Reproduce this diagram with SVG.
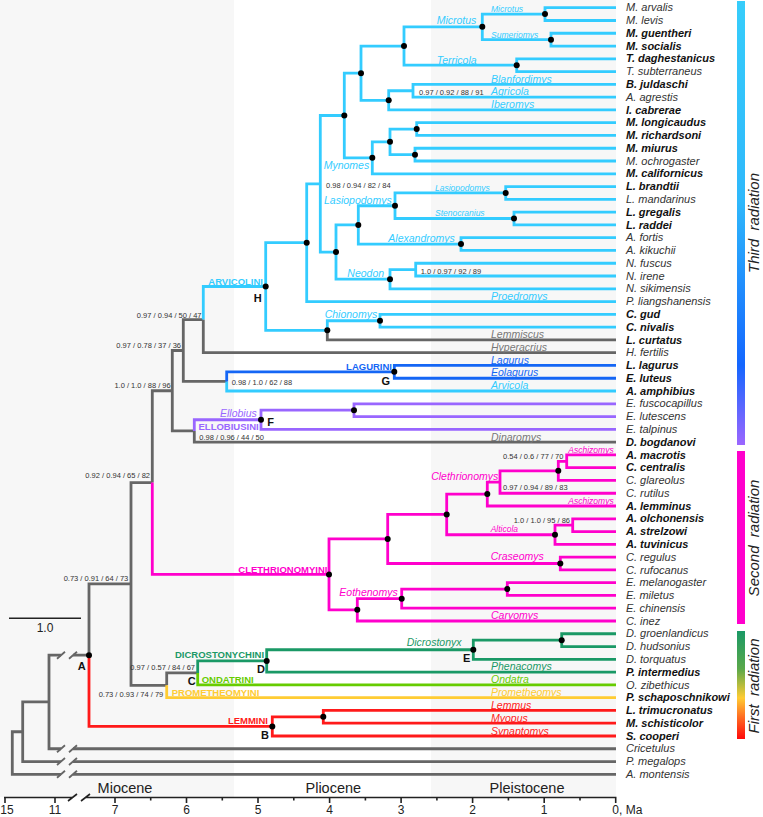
<svg xmlns="http://www.w3.org/2000/svg" width="763" height="817" viewBox="0 0 763 817">
<defs>
<style>
text{font-family:"Liberation Sans",Arial,sans-serif}
.t{font-size:11px;font-style:italic;fill:#333}
.b{font-weight:bold;fill:#111}
.gn{font-size:10.5px;font-style:italic}
.sm{font-size:8.5px;font-style:italic}
.sp{font-size:7.5px;fill:#333}
.cl{font-size:9.5px;font-weight:bold}
.lt{font-size:11px;font-weight:bold;fill:#111;text-anchor:middle}
.ax{font-size:12px;fill:#222;text-anchor:middle}
.ep{font-size:14.5px;fill:#222;text-anchor:middle}
.rad{font-size:15px;font-style:italic;fill:#222;text-anchor:middle}
.e{text-anchor:end}
.fcy{fill:#33ccff}.fbl{fill:#1466f5}.fpu{fill:#9966ff}.fmg{fill:#ff00cc}.fdg{fill:#1a9966}.flg{fill:#66cc00}.fye{fill:#ffcc33}.frd{fill:#ff1a1a}.fgy{fill:#777}
.br{fill:none;stroke-width:2.8}
.cy{stroke:#33ccff}.bl{stroke:#1466f5}.pu{stroke:#9966ff}.mg{stroke:#ff00cc}.dg{stroke:#1a9966}.lg{stroke:#66cc00}.ye{stroke:#ffcc33}.rd{stroke:#ff1a1a}.gy{stroke:#666}
.dot{fill:#000}
</style>
<linearGradient id="g3" x1="0" y1="0" x2="0" y2="1">
<stop offset="0" stop-color="#36cdfb"/><stop offset="0.45" stop-color="#2fb8fb"/><stop offset="0.82" stop-color="#1466ff"/><stop offset="1" stop-color="#9b66ff"/>
</linearGradient>
<linearGradient id="g1" x1="0" y1="0" x2="0" y2="1">
<stop offset="0" stop-color="#1a9966"/><stop offset="0.35" stop-color="#5aa84a"/><stop offset="0.62" stop-color="#ffcc33"/><stop offset="0.8" stop-color="#ff6a22"/><stop offset="1" stop-color="#ff0a0a"/>
</linearGradient>
</defs>
<rect width="763" height="817" fill="#fff"/>
<g id="epochs">
<rect x="0" y="0" width="234" height="797" fill="#f7f7f7"/>
<rect x="431" y="0" width="185" height="797" fill="#f7f7f7"/>
</g>
<g id="connectors">
<path class="br gy" d="M327.3 330.32V339.9H616M203.3 319.59V352.68H616M183.3 350.51V319.59H203.3M183.3 350.51V381.43H226.7M194.3 430.94V442.12H616M172.3 390.73V350.51H183.3M172.3 390.73V430.94H194.3M152.3 482.56V390.73H172.3M166.7 685.28V672.9H197.7M131 583.92V482.56H152.3M131 583.92V685.28H166.7M89 655.16V583.92H131M49 701.97V655.16H61M73 655.16H89M49 701.97V748.77H61M73 748.77H616M22.7 731.75V701.97H49M22.7 731.75V761.54H61M73 761.54H616M12.3 753.04V731.75H22.7M12.3 753.04V774.32H61M73 774.32H616"/>
<path fill="none" stroke="#666" stroke-width="1.8" d="M57 658.7L65 651.7M69 658.7L77 651.7M57 752.3L65 745.3M69 752.3L77 745.3M57 765L65 758M69 765L77 758M57 777.8L65 770.8M69 777.8L77 770.8"/>
<path class="br cy" d="M482.3 26.87V14.1H545M482.3 26.87V39.64H551M545 14.1V7.7H616M545 14.1V20.48H616M551 39.64V33.25H616M551 39.64V46.03H616M516.7 65.2V58.81H616M516.7 65.2V71.59H616M404 46.03V26.87H482.3M404 46.03V65.2H516.7M413 90.75V84.36H616M413 90.75V97.14H616M388.7 100.34V90.75H413M388.7 100.34V109.92H616M361 73.18V46.03H404M361 73.18V100.34H388.7M416.7 129.08V122.69H616M416.7 129.08V135.47H616M415 154.64V148.25H616M415 154.64V161.02H616M390 141.86V129.08H416.7M390 141.86V154.64H415M372.3 157.83V141.86H390M372.3 157.83V173.8H616M344.3 115.5V73.18H361M344.3 115.5V157.83H372.3M505.7 192.97V186.58H616M505.7 192.97V199.36H616M514 218.52V212.13H616M514 218.52V224.91H616M395 205.75V192.97H505.7M395 205.75V218.52H514M461 244.08V237.69H616M461 244.08V250.46H616M358.3 224.9V205.75H395M358.3 224.9V244.08H461M415.7 269.63V263.24H616M415.7 269.63V276.02H616M390 279.21V269.63H415.7M390 279.21V288.79H616M336 252.06V224.9H358.3M336 252.06V279.21H390M320.3 183.78V115.5H344.3M320.3 183.78V252.06H336M306.7 242.68V183.78H320.3M306.7 242.68V301.57H616M380 320.74V314.35H616M380 320.74V327.12H616M327.3 330.32V320.74H380M265.7 286.5V242.68H306.7M265.7 286.5V330.32H327.3M203.3 319.59V286.5H265.7M226.7 381.43V391.01H616"/>
<path class="br bl" d="M394.3 371.85V365.46H616M394.3 371.85V378.23H616M226.7 381.43V371.85H394.3"/>
<path class="br pu" d="M354 410.18V403.79H616M354 410.18V416.56H616M261 419.76V410.18H354M261 419.76V429.34H616M194.3 430.94V419.76H261"/>
<path class="br mg" d="M566.7 461.28V454.89H616M566.7 461.28V467.67H616M558.3 470.87V461.28H566.7M558.3 470.87V480.45H616M500 482.05V470.87H558.3M500 482.05V493.23H616M487.3 494.03V482.05H500M487.3 494.03V506H616M572.7 525.17V518.78H616M572.7 525.17V531.56H616M555 534.75V525.17H572.7M555 534.75V544.33H616M446.7 514.39V494.03H487.3M446.7 514.39V534.75H555M560.3 563.5V557.11H616M560.3 563.5V569.89H616M387.7 538.95V514.39H446.7M387.7 538.95V563.5H560.3M507.3 589.05V582.66H616M507.3 589.05V595.44H616M401.7 598.64V589.05H507.3M401.7 598.64V608.22H616M357.3 609.82V598.64H401.7M357.3 609.82V621H616M329 574.39V538.95H387.7M329 574.39V609.82H357.3M152.3 482.56V574.39H329"/>
<path class="br dg" d="M561.7 640.16V633.77H616M561.7 640.16V646.55H616M473.3 649.75V640.16H561.7M473.3 649.75V659.33H616M266.7 660.93V649.75H473.3M266.7 660.93V672.1H616M197.7 672.9V660.93H266.7"/>
<path class="br lg" d="M197.7 672.9V684.88H616"/>
<path class="br ye" d="M166.7 685.28V697.66H616"/>
<path class="br rd" d="M323.3 716.82V710.43H616M323.3 716.82V723.21H616M272.3 726.4V716.82H323.3M272.3 726.4V735.99H616M89 655.16V726.4H272.3"/>
</g>
<g id="nodes" class="dot">
<circle cx="545" cy="14.1" r="3"/><circle cx="482.3" cy="26.87" r="3"/><circle cx="551" cy="39.64" r="3"/><circle cx="516.7" cy="65.2" r="3"/><circle cx="404" cy="46.03" r="3"/><circle cx="388.7" cy="100.34" r="3"/><circle cx="361" cy="73.18" r="3"/><circle cx="344.3" cy="115.5" r="3"/><circle cx="372.3" cy="157.83" r="3"/><circle cx="390" cy="141.86" r="3"/><circle cx="416.7" cy="129.08" r="3"/><circle cx="415" cy="154.64" r="3"/><circle cx="306.7" cy="242.68" r="3"/><circle cx="336" cy="252.06" r="3"/><circle cx="358.3" cy="224.9" r="3"/><circle cx="395" cy="205.75" r="3"/><circle cx="505.7" cy="192.97" r="3"/><circle cx="514" cy="218.52" r="3"/><circle cx="461" cy="244.08" r="3"/><circle cx="390" cy="279.21" r="3"/><circle cx="380" cy="320.74" r="3"/><circle cx="327.3" cy="330.32" r="3"/><circle cx="265.7" cy="286.5" r="3"/><circle cx="394.3" cy="371.85" r="3"/><circle cx="261" cy="419.76" r="3"/><circle cx="354" cy="410.18" r="3"/><circle cx="329" cy="574.39" r="3"/><circle cx="387.7" cy="538.95" r="3"/><circle cx="446.7" cy="514.39" r="3"/><circle cx="487.3" cy="494.03" r="3"/><circle cx="558.3" cy="470.87" r="3"/><circle cx="555" cy="534.75" r="3"/><circle cx="560.3" cy="563.5" r="3"/><circle cx="357.3" cy="609.82" r="3"/><circle cx="401.7" cy="598.64" r="3"/><circle cx="507.3" cy="589.05" r="3"/><circle cx="89" cy="655.16" r="3"/><circle cx="266.7" cy="660.93" r="3"/><circle cx="473.3" cy="649.75" r="3"/><circle cx="561.7" cy="640.16" r="3"/><circle cx="272.3" cy="726.4" r="3"/><circle cx="323.3" cy="716.82" r="3"/>
</g>
<g id="node-letters">
<text class="lt" x="81.7" y="669.9">A</text><text class="lt" x="265" y="738.9">B</text><text class="lt" x="191.7" y="684.6">C</text><text class="lt" x="261" y="672.9">D</text><text class="lt" x="466.7" y="662.2">E</text><text class="lt" x="270.7" y="425.6">F</text><text class="lt" x="385.7" y="384.9">G</text><text class="lt" x="257.7" y="302.2">H</text>
</g>
<g id="clades">
<text class="cl fcy e" x="263" y="285.1">ARVICOLINI</text>
<text class="cl fbl e" x="392" y="370.1">LAGURINI</text>
<text class="cl fpu" x="198.5" y="430.1">ELLOBIUSINI</text>
<text class="cl fmg e" x="327.5" y="573">CLETHRIONOMYINI</text>
<text class="cl fdg" x="175" y="658.4">DICROSTONYCHINI</text>
<text class="cl flg" x="201.7" y="682.7">ONDATRINI</text>
<text class="cl fye" x="171.7" y="696.1">PROMETHEOMYINI</text>
<text class="cl frd e" x="268" y="723.6">LEMMINI</text>
</g>
<g id="genera">
<text class="gn fcy" x="436.7" y="23.7">Microtus</text>
<text class="sm fcy" x="491" y="12.3">Microtus</text>
<text class="sm fcy" x="491" y="38">Sumeriomys</text>
<text class="gn fcy" x="436.7" y="63.7">Terricola</text>
<text class="gn fcy" x="491" y="82.7">Blanfordimys</text>
<text class="gn fcy" x="491" y="95.4">Agricola</text>
<text class="gn fcy" x="491" y="108">Iberomys</text>
<text class="gn fcy" x="323.7" y="168.7">Mynomes</text>
<text class="gn fcy" x="324" y="203.7">Lasiopodomys</text>
<text class="sm fcy" x="435" y="191.3">Lasiopodomys</text>
<text class="sm fcy" x="435" y="216.3">Stenocranius</text>
<text class="gn fcy" x="388.3" y="242">Alexandromys</text>
<text class="gn fcy" x="347.3" y="277">Neodon</text>
<text class="gn fcy" x="491" y="300">Proedromys</text>
<text class="gn fcy" x="324.7" y="318">Chionomys</text>
<text class="gn fgy" x="491" y="338.1">Lemmiscus</text>
<text class="gn fgy" x="491" y="351">Hyperacrius</text>
<text class="gn fbl" x="491" y="363.7">Lagurus</text>
<text class="gn fbl" x="491" y="376.4">Eolagurus</text>
<text class="gn fcy" x="491" y="389.2">Arvicola</text>
<text class="gn fpu" x="220" y="417">Ellobius</text>
<text class="gn fgy" x="491" y="441">Dinaromys</text>
<text class="sm fmg" x="568.3" y="453">Aschizomys</text>
<text class="gn fmg e" x="498.3" y="479.7">Clethrionomys</text>
<text class="sm fmg" x="568.3" y="503.7">Aschizomys</text>
<text class="sm fmg" x="490.7" y="532.3">Alticola</text>
<text class="gn fmg" x="490.7" y="560.4">Craseomys</text>
<text class="gn fmg" x="339.3" y="595.7">Eothenomys</text>
<text class="gn fmg" x="491" y="619">Caryomys</text>
<text class="gn fdg" x="406.7" y="646.4">Dicrostonyx</text>
<text class="gn fdg" x="491" y="670.4">Phenacomys</text>
<text class="gn flg" x="491" y="683.4">Ondatra</text>
<text class="gn fye" x="491" y="696.2">Prometheomys</text>
<text class="gn frd" x="491" y="708.9">Lemmus</text>
<text class="gn frd" x="491" y="721.7">Myopus</text>
<text class="gn frd" x="491" y="734.5">Synaptomys</text>
</g>
<g id="support">
<text class="sp" x="419" y="95.4">0.97 / 0.92 / 88 / 91</text>
<text class="sp" x="326" y="188.4">0.98 / 0.94 / 82 / 84</text>
<text class="sp" x="420.7" y="273.7">1.0 / 0.97 / 92 / 89</text>
<text class="sp e" x="201.5" y="317.7">0.97 / 0.94 / 50 / 47</text>
<text class="sp e" x="181" y="347.7">0.97 / 0.78 / 37 / 36</text>
<text class="sp" x="231.7" y="385.4">0.98 / 1.0 / 62 / 88</text>
<text class="sp e" x="170.7" y="388.4">1.0 / 1.0 / 88 / 96</text>
<text class="sp" x="199.3" y="440">0.98 / 0.96 / 44 / 50</text>
<text class="sp e" x="150" y="478">0.92 / 0.94 / 65 / 82</text>
<text class="sp" x="503" y="459.4">0.54 / 0.6 / 77 / 70</text>
<text class="sp" x="503" y="490">0.97 / 0.94 / 89 / 83</text>
<text class="sp e" x="570" y="522.7">1.0 / 1.0 / 95 / 86</text>
<text class="sp e" x="128.3" y="581">0.73 / 0.91 / 64 / 73</text>
<text class="sp e" x="195" y="670.4">0.97 / 0.57 / 84 / 67</text>
<text class="sp e" x="163.3" y="696.7">0.73 / 0.93 / 74 / 79</text>
</g>
<g id="taxa">
<g id="t1"><text class="t" x="626" y="11.3">M. arvalis</text></g>
<g id="t2"><text class="t" x="626" y="24.1">M. levis</text></g>
<g id="t3"><text class="t b" x="626" y="36.9">M. guentheri</text></g>
<g id="t4"><text class="t b" x="626" y="49.6">M. socialis</text></g>
<g id="t5"><text class="t b" x="626" y="62.4">T. daghestanicus</text></g>
<g id="t6"><text class="t" x="626" y="75.2">T. subterraneus</text></g>
<g id="t7"><text class="t b" x="626" y="88">B. juldaschi</text></g>
<g id="t8"><text class="t" x="626" y="100.7">A. agrestis</text></g>
<g id="t9"><text class="t b" x="626" y="113.5">I. cabrerae</text></g>
<g id="t10"><text class="t b" x="626" y="126.3">M. longicaudus</text></g>
<g id="t11"><text class="t b" x="626" y="139.1">M. richardsoni</text></g>
<g id="t12"><text class="t b" x="626" y="151.9">M. miurus</text></g>
<g id="t13"><text class="t" x="626" y="164.6">M. ochrogaster</text></g>
<g id="t14"><text class="t b" x="626" y="177.4">M. californicus</text></g>
<g id="t15"><text class="t b" x="626" y="190.2">L. brandtii</text></g>
<g id="t16"><text class="t" x="626" y="203">L. mandarinus</text></g>
<g id="t17"><text class="t b" x="626" y="215.7">L. gregalis</text></g>
<g id="t18"><text class="t b" x="626" y="228.5">L. raddei</text></g>
<g id="t19"><text class="t" x="626" y="241.3">A. fortis</text></g>
<g id="t20"><text class="t" x="626" y="254.1">A. kikuchii</text></g>
<g id="t21"><text class="t" x="626" y="266.8">N. fuscus</text></g>
<g id="t22"><text class="t" x="626" y="279.6">N. irene</text></g>
<g id="t23"><text class="t" x="626" y="292.4">N. sikimensis</text></g>
<g id="t24"><text class="t" x="626" y="305.2">P. liangshanensis</text></g>
<g id="t25"><text class="t b" x="626" y="318">C. gud</text></g>
<g id="t26"><text class="t b" x="626" y="330.7">C. nivalis</text></g>
<g id="t27"><text class="t b" x="626" y="343.5">L. curtatus</text></g>
<g id="t28"><text class="t" x="626" y="356.3">H. fertilis</text></g>
<g id="t29"><text class="t b" x="626" y="369.1">L. lagurus</text></g>
<g id="t30"><text class="t b" x="626" y="381.8">E. luteus</text></g>
<g id="t31"><text class="t b" x="626" y="394.6">A. amphibius</text></g>
<g id="t32"><text class="t" x="626" y="407.4">E. fuscocapillus</text></g>
<g id="t33"><text class="t" x="626" y="420.2">E. lutescens</text></g>
<g id="t34"><text class="t" x="626" y="432.9">E. talpinus</text></g>
<g id="t35"><text class="t b" x="626" y="445.7">D. bogdanovi</text></g>
<g id="t36"><text class="t b" x="626" y="458.5">A. macrotis</text></g>
<g id="t37"><text class="t b" x="626" y="471.3">C. centralis</text></g>
<g id="t38"><text class="t" x="626" y="484.1">C. glareolus</text></g>
<g id="t39"><text class="t" x="626" y="496.8">C. rutilus</text></g>
<g id="t40"><text class="t b" x="626" y="509.6">A. lemminus</text></g>
<g id="t41"><text class="t b" x="626" y="522.4">A. olchonensis</text></g>
<g id="t42"><text class="t b" x="626" y="535.2">A. strelzowi</text></g>
<g id="t43"><text class="t b" x="626" y="547.9">A. tuvinicus</text></g>
<g id="t44"><text class="t" x="626" y="560.7">C. regulus</text></g>
<g id="t45"><text class="t" x="626" y="573.5">C. rufocanus</text></g>
<g id="t46"><text class="t" x="626" y="586.3">E. melanogaster</text></g>
<g id="t47"><text class="t" x="626" y="599">E. miletus</text></g>
<g id="t48"><text class="t" x="626" y="611.8">E. chinensis</text></g>
<g id="t49"><text class="t" x="626" y="624.6">C. inez</text></g>
<g id="t50"><text class="t" x="626" y="637.4">D. groenlandicus</text></g>
<g id="t51"><text class="t" x="626" y="650.2">D. hudsonius</text></g>
<g id="t52"><text class="t" x="626" y="662.9">D. torquatus</text></g>
<g id="t53"><text class="t b" x="626" y="675.7">P. intermedius</text></g>
<g id="t54"><text class="t" x="626" y="688.5">O. zibethicus</text></g>
<g id="t55"><text class="t b" x="626" y="701.3">P. schaposchnikowi</text></g>
<g id="t56"><text class="t b" x="626" y="714">L. trimucronatus</text></g>
<g id="t57"><text class="t b" x="626" y="726.8">M. schisticolor</text></g>
<g id="t58"><text class="t b" x="626" y="739.6">S. cooperi</text></g>
<g id="t59"><text class="t" x="626" y="752.4">Cricetulus</text></g>
<g id="t60"><text class="t" x="626" y="765.1">P. megalops</text></g>
<g id="t61"><text class="t" x="626" y="777.9">A. montensis</text></g>
</g>
<g id="radiations">
<rect x="737" y="1" width="8" height="444" fill="url(#g3)"/>
<rect x="737" y="451" width="8" height="173" fill="#ff00cc"/>
<rect x="737" y="631" width="8" height="108" fill="url(#g1)"/>
<text class="rad" transform="translate(759,223) rotate(-90)">Third&#160; radiation</text>
<text class="rad" transform="translate(759,538) rotate(-90)">Second&#160; radiation</text>
<text class="rad" transform="translate(759,686) rotate(-90)">First&#160; radiation</text>
</g>
<g id="scale">
<path d="M9 618.3H81" stroke="#222" stroke-width="1.5"/>
<text class="ax" x="45" y="632">1.0</text>
</g>
<g id="axis">
<path fill="none" stroke="#222" stroke-width="1.6" d="M4 797.5H72M85 797.5H616.5M68 801L77 794M81 801L90 794M5 797.5V803M55 797.5V803M115 797.5V803M186.5 797.5V803M258 797.5V803M329.6 797.5V803M401.1 797.5V803M472.6 797.5V803M544.2 797.5V803M615.7 797.5V803M150.7 797.5V800.5M222.3 797.5V800.5M293.8 797.5V800.5M365.4 797.5V800.5M436.9 797.5V800.5M508.4 797.5V800.5M580 797.5V800.5"/>
<text class="ax" x="7" y="813.5">15</text>
<text class="ax" x="55" y="813.5">11</text>
<text class="ax" x="115" y="813.5">7</text>
<text class="ax" x="186.5" y="813.5">6</text>
<text class="ax" x="258" y="813.5">5</text>
<text class="ax" x="329.6" y="813.5">4</text>
<text class="ax" x="401.1" y="813.5">3</text>
<text class="ax" x="472.6" y="813.5">2</text>
<text class="ax" x="544.2" y="813.5">1</text>
<text class="ax" x="612.3" y="813.5" style="text-anchor:start">0, Ma</text>
<text class="ep" x="125" y="793">Miocene</text>
<text class="ep" x="333.3" y="793">Pliocene</text>
<text class="ep" x="527" y="793">Pleistocene</text>
</g>
</svg>
